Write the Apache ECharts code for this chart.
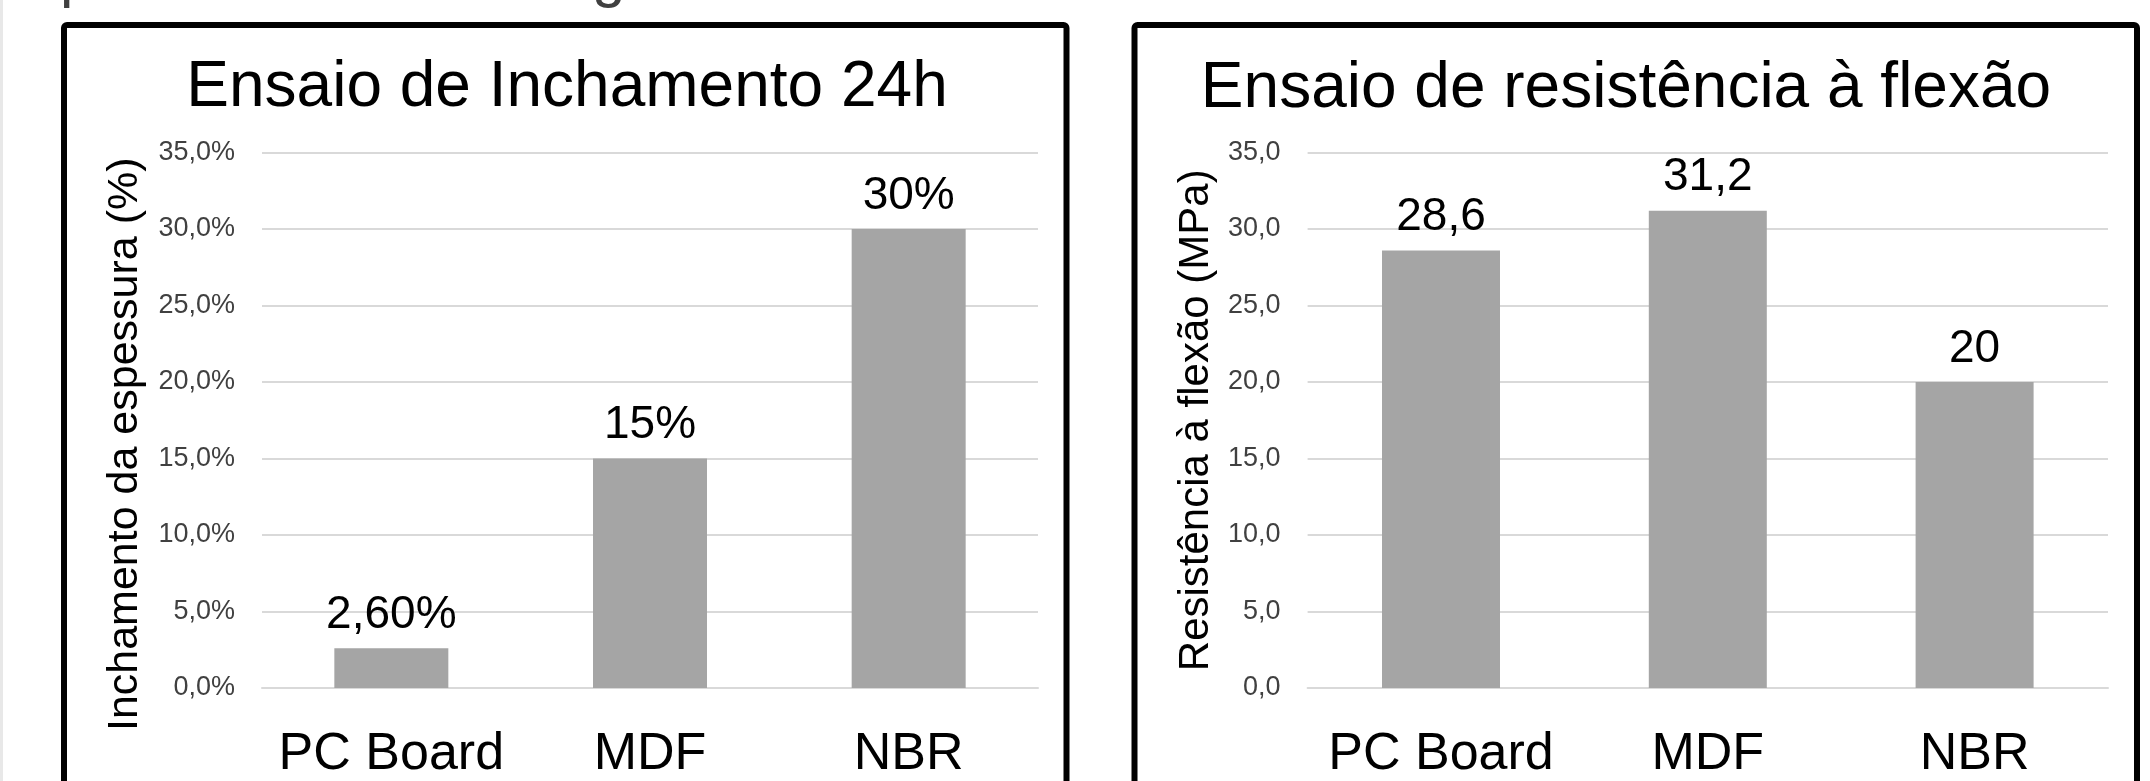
<!DOCTYPE html>
<html>
<head>
<meta charset="utf-8">
<script src="https://cdn.jsdelivr.net/npm/echarts@6/dist/echarts.min.js"></script>
<style>
  html, body { margin: 0; padding: 0; background: #ffffff; }
  #chart { width: 2150px; height: 781px; }
</style>
</head>
<body>
<div id="chart"></div>
<script>
// Categories and measured values
const categories = ['PC Board', 'MDF', 'NBR'];
const swellingPct = [2.6, 15, 30];          // 24h thickness swelling, %
const swellingDecimals = [2, 0, 0];         // decimals shown in each value label
const flexuralMPa = [28.6, 31.2, 20];       // flexural strength, MPa
const panelTitles = ['Ensaio de Inchamento 24h', 'Ensaio de resistência à flexão'];
const axisNames = ['Inchamento da espessura (%)', 'Resistência à flexão (MPa)'];

const FONT = "'Liberation Sans', Arial, Helvetica, sans-serif";
const BAR = '#a5a5a5';
const GRID = '#d9d9d9';

const comma = s => s.replace('.', ',');

const chart = echarts.init(document.getElementById('chart'), null, { renderer: 'canvas' });

const xAxisBase = {
  type: 'category',
  data: categories,
  axisTick: { show: false },
  axisLine: { show: true, lineStyle: { color: GRID, width: 2 } },
  axisLabel: { interval: 0, hideOverlap: false, fontFamily: FONT, fontSize: 52, color: '#000', margin: 41 }
};

const yAxisBase = {
  type: 'value',
  min: 0,
  max: 35,
  interval: 5,
  axisLine: { show: false },
  axisTick: { show: false },
  splitLine: { show: true, lineStyle: { color: GRID, width: 2 } },
  nameLocation: 'middle',
  nameTextStyle: { fontFamily: FONT, fontSize: 43, color: '#000' }
};

const option = {
  backgroundColor: '#ffffff',
  animation: false,
  grid: [
    { left: 262, top: 152.5, width: 776, height: 536.5 },
    { left: 1307.6, top: 152.5, width: 800.4, height: 536.5 }
  ],
  xAxis: [
    Object.assign({ gridIndex: 0 }, xAxisBase),
    Object.assign({ gridIndex: 1 }, xAxisBase)
  ],
  yAxis: [
    Object.assign({}, yAxisBase, {
      gridIndex: 0,
      name: axisNames[0],
      nameGap: 115,
      nameTextStyle: Object.assign({}, yAxisBase.nameTextStyle, { padding: [0, 48, 0, 0] }),
      axisLabel: {
        fontFamily: FONT, fontSize: 27, color: '#404040', margin: 27,
        formatter: v => comma(v.toFixed(1)) + '%'
      }
    }),
    Object.assign({}, yAxisBase, {
      gridIndex: 1,
      name: axisNames[1],
      nameGap: 90,
      nameTextStyle: Object.assign({}, yAxisBase.nameTextStyle, { fontSize: 42 }),
      axisLabel: {
        fontFamily: FONT, fontSize: 27, color: '#404040', margin: 27,
        formatter: v => comma(v.toFixed(1))
      }
    })
  ],
  series: [
    {
      type: 'bar',
      xAxisIndex: 0,
      yAxisIndex: 0,
      data: swellingPct,
      barWidth: 114,
      itemStyle: { color: BAR },
      label: {
        show: true,
        position: 'top',
        distance: 10,
        fontFamily: FONT,
        fontSize: 46,
        color: '#000',
        formatter: p => comma(p.value.toFixed(swellingDecimals[p.dataIndex])) + '%'
      }
    },
    {
      type: 'bar',
      xAxisIndex: 1,
      yAxisIndex: 1,
      data: flexuralMPa,
      barWidth: 118,
      itemStyle: { color: BAR },
      label: {
        show: true,
        position: 'top',
        distance: 10,
        fontFamily: FONT,
        fontSize: 46,
        color: '#000',
        formatter: p => comma(String(p.value))
      }
    }
  ],
  graphic: [
    // thin grey strip on the far left edge
    { type: 'rect', left: 0, top: 0, shape: { width: 3, height: 781 }, style: { fill: '#e8e8e8' }, silent: true },
    // descenders of the page heading that sits above the top edge
    { type: 'text', x: 60, y: -21, style: { text: 'p', font: '60px ' + FONT, fill: '#404040', textAlign: 'left', textVerticalAlign: 'middle' }, silent: true },
    { type: 'text', x: 592, y: -21, style: { text: 'g', font: '60px ' + FONT, fill: '#404040', textAlign: 'left', textVerticalAlign: 'middle' }, silent: true },
    // panel frames (run past the bottom edge)
    { type: 'rect', shape: { x: 64, y: 25, width: 1002.5, height: 800, r: 3 },
      style: { fill: 'none', stroke: '#000', lineWidth: 6 }, silent: true, z: 10 },
    { type: 'rect', shape: { x: 1134.5, y: 25, width: 1002.5, height: 800, r: 3 },
      style: { fill: 'none', stroke: '#000', lineWidth: 6 }, silent: true, z: 10 },
    // panel titles
    { type: 'text', x: 567, y: 56, style: { text: panelTitles[0], font: '64px ' + FONT, fill: '#000', textAlign: 'center', textVerticalAlign: 'top' }, silent: true },
    { type: 'text', x: 1626, y: 57, style: { text: panelTitles[1], font: '64px ' + FONT, fill: '#000', textAlign: 'center', textVerticalAlign: 'top' }, silent: true }
  ]
};

chart.setOption(option);
</script>
</body>
</html>
